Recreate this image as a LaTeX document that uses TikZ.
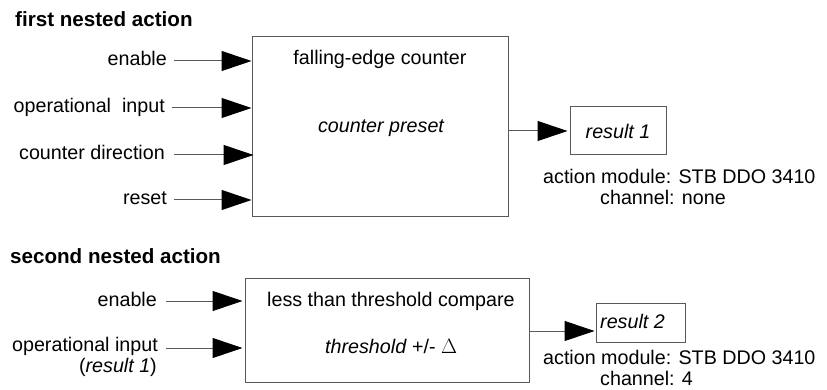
\documentclass[tikz,border=0pt]{standalone}
\usepackage{fontspec}
\setmainfont{Liberation Sans}
\usetikzlibrary{arrows.meta}
\begin{document}
\begin{tikzpicture}[x=1pt,y=-1pt,
  txt/.style={font=\fontsize{19.7}{22}\selectfont, inner sep=0pt},
  head/.style={font=\fontsize{20.6}{24}\selectfont\bfseries, inner sep=0pt},
  boxa/.style={draw=black!65, line width=1pt, inner sep=0pt, fill=white},
  conn/.style={draw=black!65, line width=1pt, -{Triangle[length=30pt,width=20pt,black]}},
]
\useasboundingbox[fill=white] (0,0) rectangle (827,390);

% ---------- first nested action ----------
\node[head, anchor=base west] (h1) at (15,27) {first nested action};
\node[boxa, minimum width=256pt, minimum height=180pt] (b1) at (380,127) {};
\node[txt, anchor=base] (b1t1) at (380,65) {falling-edge counter};
\node[txt, anchor=base] (b1t2) at (381,133) {\itshape counter preset};

\node[txt, anchor=base east] (i1) at (167,65.5) {enable};
\node[txt, anchor=base east] (i2) at (165,112.5) {operational\ \ input};
\node[txt, anchor=base east] (i3) at (165,159.5) {counter direction};
\node[txt, anchor=base east] (i4) at (167,204.5) {reset};
\coordinate (s1) at (174,61);
\coordinate (s2) at (172,108);
\coordinate (s3) at (174,155);
\coordinate (s4) at (174,200);
\draw[conn] (s1) -- (s1 -| b1.west);
\draw[conn] (s2) -- (s2 -| b1.west);
\draw[conn] (s3) -- ([xshift=2pt]s3 -| b1.west);
\draw[conn] (s4) -- (s4 -| b1.west);

\node[boxa, minimum width=96pt, minimum height=48pt, txt] (r1) at (618,131) {\itshape result 1};
\draw[conn] (r1.west -| b1.east) -- ([xshift=-2pt]r1.west);
\node[txt, anchor=base west] (m1) at (543,184) {action module: STB DDO 3410};
\node[txt, anchor=base west] (c1) at (600,205) {channel: none};

% ---------- second nested action ----------
\node[head, anchor=base west] (h2) at (10,263) {second nested action};
\node[boxa, minimum width=284pt, minimum height=104pt] (b2) at (387,330) {};
\node[txt, anchor=base west] (b2t1) at (267,306) {less than threshold compare};
\node[txt, anchor=base west] (b2t2) at (325,353) {\itshape threshold\/\upshape\ +/- $\Delta$};

\node[txt, anchor=base east] (j1) at (157,306) {enable};
\node[txt, anchor=base east] (j2) at (158,351) {operational input};
\node[txt, anchor=base east] (j3) at (157,372) {(\textit{result 1})};
\coordinate (u1) at (166,301);
\coordinate (u2) at (166,348);
\draw[conn] (u1) -- ([xshift=-2pt]u1 -| b2.west);
\draw[conn] (u2) -- ([xshift=-2pt]u2 -| b2.west);

\node[boxa, minimum width=89pt, minimum height=39pt] (r2) at (640.5,322.5) {};
\node[txt, anchor=base west] (r2t) at (600,328) {\itshape result 2};
\draw[conn] ([yshift=-8.5pt]r2.west -| b2.east) -- ([yshift=-8.5pt, xshift=-1pt]r2.west);
\node[txt, anchor=base west] (m2) at (543,364) {action module: STB DDO 3410};
\node[txt, anchor=base west] (c2) at (600,385) {channel: 4};
\end{tikzpicture}
\end{document}
